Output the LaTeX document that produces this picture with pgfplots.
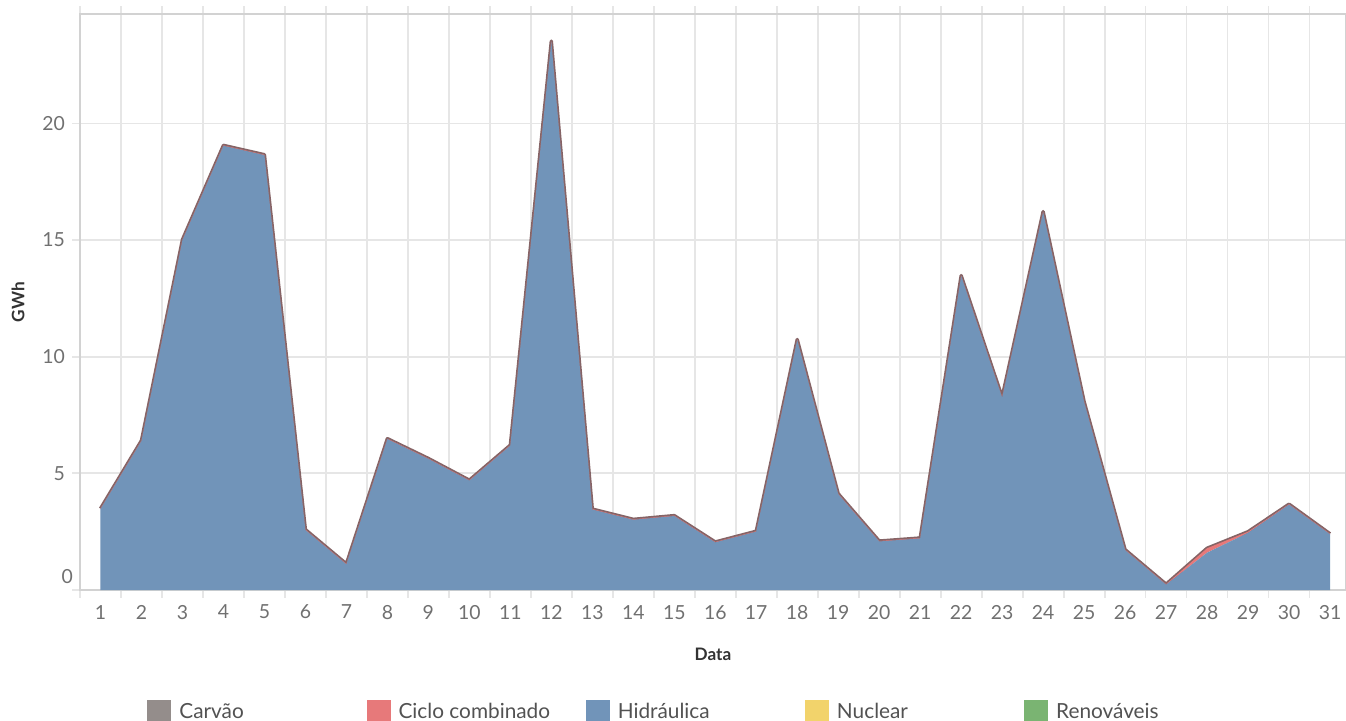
\documentclass[border=0pt]{standalone}
\usepackage{pgfplots}
\pgfplotsset{compat=1.18}
\usepackage{fontspec}
\setmainfont{Lato}
\definecolor{cCarvao}{HTML}{948D8B}
\definecolor{cCiclo}{HTML}{E7797A}
\definecolor{cHidro}{HTML}{7194B9}
\definecolor{cNuclear}{HTML}{F2D36B}
\definecolor{cRenov}{HTML}{7AB472}
\definecolor{cEdge}{HTML}{856466}
\definecolor{cGrid}{HTML}{E6E6E6}
\definecolor{cAxis}{HTML}{D2D2D2}
\definecolor{cTick}{HTML}{707070}
\definecolor{cTitle}{HTML}{333333}
\begin{document}
\begin{tikzpicture}
\clip (-40pt,-65pt) rectangle (633pt,295pt);
\begin{axis}[
  at={(0,0)}, anchor=south west,
  scale only axis, width=633pt, height=288pt,
  xmin=0.5, xmax=31.39, ymin=0, ymax=24.69,
  stack plots=y,
  axis line style={draw=cAxis, line width=0.6pt},
  xtick={1,...,31},
  minor xtick={0.5,1.5,...,31.5},
  xminorgrids=true, xmajorgrids=false,
  ytick={5,10,15,20},
  minor ytick={0},
  ymajorgrids=true, yminorgrids=false,
  grid style={draw=cGrid, line width=0.9pt},
  minor grid style={draw=cGrid, line width=0.9pt},
  tick align=outside,
  major x tick style={draw=none},
  xtick style={draw=cGrid, line width=0.9pt},
  ytick style={draw=cGrid, line width=0.9pt},
  major tick length=4pt, minor tick length=4pt,
  extra y ticks={0.557}, extra y tick labels={0},
  extra y tick style={grid=none, major tick length=0pt},
  /pgf/number format/assume math mode=true,
  tick label style={font=\fontsize{9.7}{11}\selectfont, text=cTick},
  xticklabel style={yshift=0pt},
  xlabel={Data}, ylabel={GWh},
  label style={font=\bfseries\fontsize{8.6}{10}\selectfont, text=cTitle},
  x label style={at={(axis description cs:0.5,0)}, anchor=center, yshift=-32pt},
  y label style={at={([xshift=-31pt]axis description cs:0,0.5)}, anchor=center},
  axis on top=false,
  legend columns=5,
  legend style={at={(axis description cs:0.05292,-0.19097)}, anchor=north west,
    draw=none, fill=none, inner sep=0pt, column sep=0pt,
    nodes={inner sep=0pt}, font=\fontsize{10.4}{12}\selectfont, text=cTitle!85!white},
  legend image code/.code={\fill[#1, draw=none] (0pt,-2pt) rectangle (12pt,10pt);},
]
\addlegendimage{fill=cCarvao}
\addlegendentry{\hspace{4pt}\smash{\makebox[93.6pt][l]{Carvão}}}
\addplot[fill=cHidro, draw=none, forget plot] coordinates {
(1,3.47) (2,6.39) (3,15.0) (4,19.04) (5,18.64) (6,2.57) (7,1.10) (8,6.47)
(9,5.62) (10,4.69) (11,6.19) (12,23.51) (13,3.45) (14,3.01) (15,3.17) (16,2.04)
(17,2.50) (18,10.72) (19,4.11) (20,2.08) (21,2.21) (22,13.46) (23,8.25) (24,16.2)
(25,8.06) (26,1.71) (27,0.23) (28,1.60) (29,2.45) (30,3.66) (31,2.39)
} \closedcycle;
\addplot[fill=cCiclo, draw=none, forget plot] coordinates {
(1,0.02) (2,0.02) (3,0.02) (4,0.02) (5,0.02) (6,0.02) (7,0.02) (8,0.02)
(9,0.02) (10,0.02) (11,0.02) (12,0.02) (13,0.02) (14,0.02) (15,0.02) (16,0.02)
(17,0.02) (18,0.02) (19,0.02) (20,0.02) (21,0.02) (22,0.02) (23,0.02) (24,0.02)
(25,0.02) (26,0.02) (27,0.02) (28,0.19) (29,0.05) (30,0.02) (31,0.02)
} \closedcycle;
\addplot[draw=cEdge, line width=1.7pt, line join=round, forget plot] coordinates {
(1,0) (2,0) (3,0) (4,0) (5,0) (6,0) (7,0) (8,0)
(9,0) (10,0) (11,0) (12,0) (13,0) (14,0) (15,0) (16,0)
(17,0) (18,0) (19,0) (20,0) (21,0) (22,0) (23,0) (24,0)
(25,0) (26,0) (27,0) (28,0) (29,0) (30,0) (31,0)
};
\addlegendimage{fill=cCiclo}
\addlegendentry{\hspace{4pt}\smash{\makebox[93.6pt][l]{Ciclo combinado}}}
\addlegendimage{fill=cHidro}
\addlegendentry{\hspace{4pt}\smash{\makebox[93.6pt][l]{Hidráulica}}}
\addlegendimage{fill=cNuclear}
\addlegendentry{\hspace{4pt}\smash{\makebox[93.6pt][l]{Nuclear}}}
\addlegendimage{fill=cRenov}
\addlegendentry{\hspace{4pt}\smash{\makebox[93.6pt][l]{Renováveis}}}
\end{axis}
\end{tikzpicture}
\end{document}
